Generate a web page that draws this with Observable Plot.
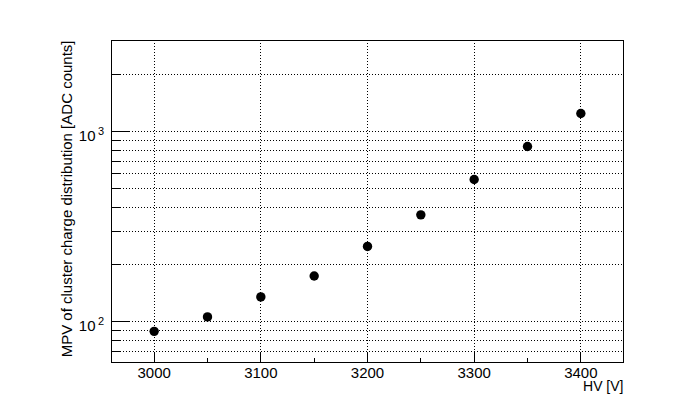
<!DOCTYPE html>
<html>
<head>
<meta charset="utf-8">
<script src="https://cdn.jsdelivr.net/npm/d3@7"></script>
<script src="https://cdn.jsdelivr.net/npm/@observablehq/plot@0.6"></script>
<style>
  html, body { margin: 0; padding: 0; background: #ffffff; }
  #chart svg { display: block; }
</style>
</head>
<body>
<div id="chart"></div>
<script>
// ---- data ----
const hv = [3000, 3050, 3100, 3150, 3200, 3250, 3300, 3350, 3400];
const mpv = [89, 106, 135, 174, 249, 365, 560, 836, 1247];

// ---- axis ticks / labels ----
const xMajorTicks = [3000, 3100, 3200, 3300, 3400];
const xMinorTicks = [3050, 3150, 3250, 3350];
const xTickLabels = ["3000", "3100", "3200", "3300", "3400"];
const yMajorTicks = [100, 1000];
const yMinorTicks = [70, 80, 90, 200, 300, 400, 500, 600, 700, 800, 900, 2000];
const yExponents = ["2", "3"];
const xTitle = "HV [V]";
const yTitle = "MPV of cluster charge distribution [ADC counts]";

const W = 693, H = 405;
const mL = 111, mR = 70, mT = 40, mB = 43;
const plotW = W - mL - mR, plotH = H - mT - mB;
const font = "'Liberation Sans', Arial, Helvetica, sans-serif";

const points = hv.map((x, i) => ({x, y: mpv[i]}));
const xLab = xMajorTicks.map((v, i) => ({v, t: xTickLabels[i]}));
const yLab = yMajorTicks.map((v, i) => ({v, e: yExponents[i]}));
const yGrid = [...yMinorTicks, ...yMajorTicks];
const crisp = "crispEdges";

const chart = Plot.plot({
  width: W,
  height: H,
  marginLeft: mL,
  marginRight: mR,
  marginTop: mT,
  marginBottom: mB,
  style: {background: "#ffffff", fontFamily: font, color: "black"},
  x: {type: "linear", domain: [2960, 3440], axis: null},
  y: {type: "log", domain: [61, 3020], axis: null},
  marks: [
    // dotted grid
    Plot.ruleX(xMajorTicks, {x: d => d, stroke: "black", strokeWidth: 1, strokeDasharray: "1,2", shapeRendering: crisp}),
    Plot.ruleY(yGrid, {y: d => d, stroke: "black", strokeWidth: 1, strokeDasharray: "1,2", shapeRendering: crisp}),
    // inward ticks, x
    Plot.ruleX(xMajorTicks, {x: d => d, stroke: "black", insetTop: plotH - 9, shapeRendering: crisp}),
    Plot.ruleX(xMinorTicks, {x: d => d, stroke: "black", insetTop: plotH - 4.5, shapeRendering: crisp}),
    // inward ticks, y
    Plot.ruleY(yMajorTicks, {y: d => d, stroke: "black", insetRight: plotW - 18, shapeRendering: crisp}),
    Plot.ruleY(yMinorTicks, {y: d => d, stroke: "black", insetRight: plotW - 9, shapeRendering: crisp}),
    // frame
    Plot.frame({stroke: "black", strokeWidth: 1, shapeRendering: crisp}),
    // data points
    Plot.dot(points, {x: "x", y: "y", r: 4.7, fill: "black", stroke: "none"}),
    // x tick labels
    Plot.text(xLab, {x: "v", text: "t", frameAnchor: "bottom", lineAnchor: "middle",
      dy: 11, fontSize: 15, fill: "black", fontFamily: font}),
    // y tick labels: 10 with superscript exponent
    Plot.text(yLab, {y: "v", text: d => "10", frameAnchor: "left", textAnchor: "end",
      lineAnchor: "middle", dx: -16, dy: 4, fontSize: 15, fill: "black", fontFamily: font}),
    Plot.text(yLab, {y: "v", text: "e", frameAnchor: "left", textAnchor: "start",
      lineAnchor: "middle", dx: -13.5, dy: -0.5, fontSize: 11, fill: "black", fontFamily: font}),
    // axis titles
    Plot.text([xTitle], {text: d => d, frameAnchor: "bottom-right", textAnchor: "end",
      lineAnchor: "middle", dy: 24.5, fontSize: 14, fill: "black", fontFamily: font}),
    Plot.text([yTitle], {text: d => d, frameAnchor: "top-left", textAnchor: "end",
      lineAnchor: "middle", rotate: -90, dx: -44.8, dy: 0, fontSize: 15, fill: "black", fontFamily: font})
  ]
});

document.getElementById("chart").appendChild(chart);
</script>
</body>
</html>
